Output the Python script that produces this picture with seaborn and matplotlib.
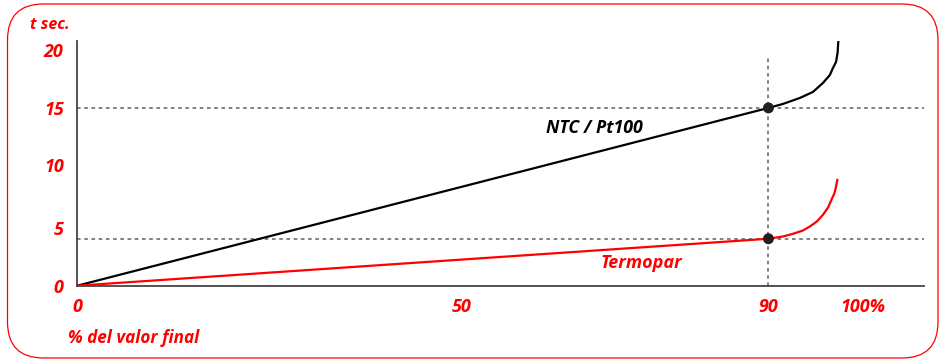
import numpy as np
import pandas as pd
import seaborn as sns
import matplotlib
matplotlib.use("Agg")
import matplotlib.pyplot as plt
from matplotlib.patches import FancyBboxPatch
from matplotlib.transforms import ScaledTranslation, IdentityTransform

# ---------------- data ----------------
ntc_x = [0, 90, 91.9, 94.1, 95.8, 97.1, 98.0, 98.4, 98.8, 99.0, 99.1]
ntc_y = [0, 15, 15.4, 16.0, 16.6, 17.5, 18.3, 19.0, 19.6, 20.5, 21.7]
termo_x = [0, 90, 91.9, 93.2, 94.5, 95.4, 96.3, 97.1, 97.8, 98.2, 98.6, 98.8, 99.0]
termo_y = [0, 5, 5.17, 5.37, 5.62, 5.92, 6.29, 6.79, 7.37, 7.91, 8.41, 8.90, 9.48]
mark_x = [90, 90]
mark_y = [15, 5]

x_ticks = [0, 10, 20, 30, 40, 50, 60, 70, 80, 90, 100]
x_labels = ["0", "", "", "", "", "50", "", "", "", "90", "100%"]
y_ticks = [0, 5, 10, 15, 20]
y_labels = ["0", "5", "10", "15", "20"]

series_ntc = "NTC / Pt100"
series_termo = "Termopar"
x_title = "% del valor final"
y_title = "t sec."

# ---------------- style ----------------
RED = "#ff0000"
sns.set_theme(style="white")
plt.rcParams["font.family"] = ["Open Sans", "DejaVu Sans"]

fig = plt.figure(figsize=(9.39, 3.6), dpi=100)
ax = fig.add_axes([0.0823, 0.2064, 0.9021, 0.6806])

# irregular (hand-drawn) vertical scale of the original: piecewise linear
_yt = [-50, 0, 5, 10, 15, 20, 60]
_yh = [-470, 0, 47, 114, 178, 228, 628]
def _fwd(v):
    return np.interp(v, _yt, _yh)
def _inv(h):
    return np.interp(h, _yh, _yt)
ax.set_yscale("function", functions=(_fwd, _inv))

df_ntc = pd.DataFrame({"x": ntc_x, "y": ntc_y})
df_termo = pd.DataFrame({"x": termo_x, "y": termo_y})
df_mark = pd.DataFrame({"x": mark_x, "y": mark_y})

# dotted guide lines
grid_kw = dict(color="#777777", lw=1.3, ls=(0, (2, 2)), zorder=1)
ax.axhline(15, **grid_kw)
ax.axhline(5, **grid_kw)
ax.vlines(90, 0, 20, **grid_kw)

line_kw = dict(lw=1.6, sort=False, estimator=None, zorder=3,
               solid_joinstyle="round", solid_capstyle="butt")
sns.lineplot(data=df_ntc, x="x", y="y", ax=ax, color="black", **line_kw)
sns.lineplot(data=df_termo, x="x", y="y", ax=ax, color=RED, **line_kw)
sns.scatterplot(data=df_mark, x="x", y="y", ax=ax, color="#231f20", s=62,
                edgecolor="none", zorder=4)

ax.set_xlim(0, 110.3)
ax.set_ylim(0, 21.73)
ax.set_xlabel("")
ax.set_ylabel("")

ax.set_xticks(x_ticks)
ax.set_xticklabels(x_labels)
ax.set_yticks(y_ticks)
ax.set_yticklabels(y_labels)
ax.minorticks_off()

for s in ["top", "right"]:
    ax.spines[s].set_visible(False)
for s in ["left", "bottom"]:
    ax.spines[s].set_color("#444444")
    ax.spines[s].set_linewidth(1.3)

TICK_FS = 13
ax.tick_params(axis="both", which="major", direction="out", length=5.8, width=1.2,
               color="#444444", labelcolor=RED, labelsize=TICK_FS)
ax.tick_params(axis="y", pad=4)
ax.tick_params(axis="x", pad=3)
for lab in ax.get_xticklabels() + ax.get_yticklabels():
    lab.set_fontweight("bold")
    lab.set_fontstyle("italic")

# small offsets of the hand-placed tick labels in the original
y_off_px = [0, 11, 7, 0, 8]
for t, dy in zip(ax.yaxis.get_major_ticks(), y_off_px):
    t.label1.set_transform(t.label1.get_transform() +
                           ScaledTranslation(0, dy / 100.0, fig.dpi_scale_trans))
xt = ax.xaxis.get_major_ticks()
xt[-1].label1.set_transform(xt[-1].label1.get_transform() +
                            ScaledTranslation(18 / 100.0, 0, fig.dpi_scale_trans))

# series labels
ax.text(67.3, 13.44, series_ntc, ha="center", va="center", fontsize=12.8,
        fontweight="bold", fontstyle="italic", color="black", zorder=5)
ax.text(73.4, 2.45, series_termo, ha="center", va="center", fontsize=13,
        fontweight="bold", fontstyle="italic", color=RED, zorder=5)

# axis titles
fig.text(30 / 939, 1 - 25 / 360, y_title, ha="left", va="center", fontsize=11.5,
         fontweight="bold", fontstyle="italic", color=RED)
fig.text(68 / 939, 1 - 338 / 360, x_title, ha="left", va="center", fontsize=12.3,
         fontweight="bold", fontstyle="italic", color=RED)

# rounded red frame
frame = FancyBboxPatch((7.5, 2.0), 930.5, 354.0,
                       boxstyle="round,pad=0,rounding_size=36",
                       transform=IdentityTransform(), fill=False,
                       edgecolor=RED, lw=0.9)
fig.patches.append(frame)

fig.savefig("out.png", dpi=100)
